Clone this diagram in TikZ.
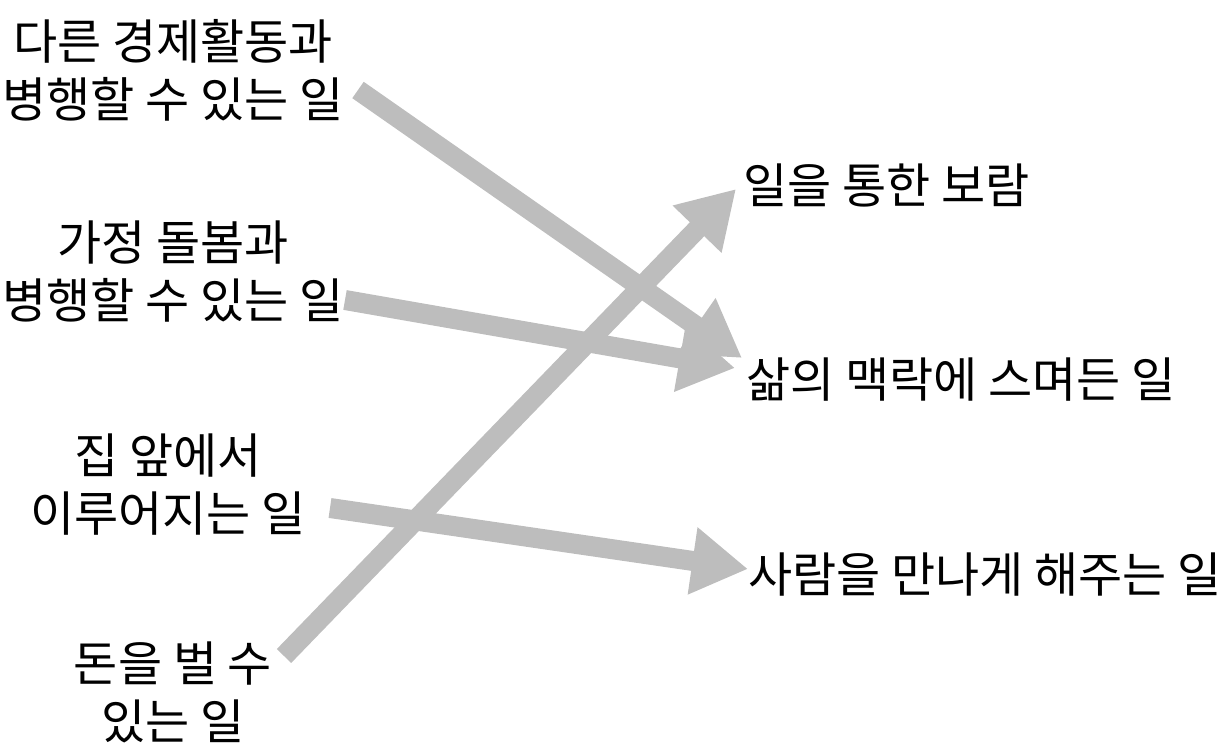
\documentclass[tikz,border=0pt]{standalone}
\usepackage{fontspec}
\setmainfont{Noto Sans CJK KR}
\usetikzlibrary{arrows.meta}
\definecolor{arrowgray}{HTML}{BDBDBD}
\tikzset{
  lbl/.style={font=\fontsize{48}{58}\selectfont, align=center, inner sep=0pt, text=black},
  rlbl/.style={font=\fontsize{48}{58}\selectfont, anchor=west, inner sep=0pt, text=black},
  bigarrow/.style={draw=arrowgray, line width=20pt, -{Triangle[length=56pt,width=64pt]}},
}
\begin{document}
\begin{tikzpicture}[x=1pt,y=-1pt]
\useasboundingbox (0,0) rectangle (1228,754);
\node[lbl] (a1) at (173,70) {다른 경제활동과\\병행할 수 있는 일};
\node[lbl] (a2) at (173,272) {가정 돌봄과\\병행할 수 있는 일};
\node[lbl] (a3) at (168,485) {집 앞에서\\이루어지는 일};
\node[lbl] (a4) at (173,692) {돈을 벌 수\\있는 일};
\node[rlbl] (b1) at (743,185) {일을 통한 보람};
\node[rlbl] (b2) at (746,380) {삶의 맥락에 스며든 일};
\node[rlbl] (b3) at (748,575) {사람을 만나게 해주는 일};
\coordinate (s1) at (358,90);
\coordinate (t1) at (742,358);
\coordinate (s2) at (345,300);
\coordinate (t2) at (735,368);
\coordinate (s3) at (284,656);
\coordinate (t3) at (736,189);
\coordinate (s4) at (330,508);
\coordinate (t4) at (748,569);
\draw[bigarrow] (s1) -- (t1);
\draw[bigarrow] (s2) -- (t2);
\draw[bigarrow] (s3) -- (t3);
\draw[bigarrow] (s4) -- (t4);
\end{tikzpicture}
\end{document}
